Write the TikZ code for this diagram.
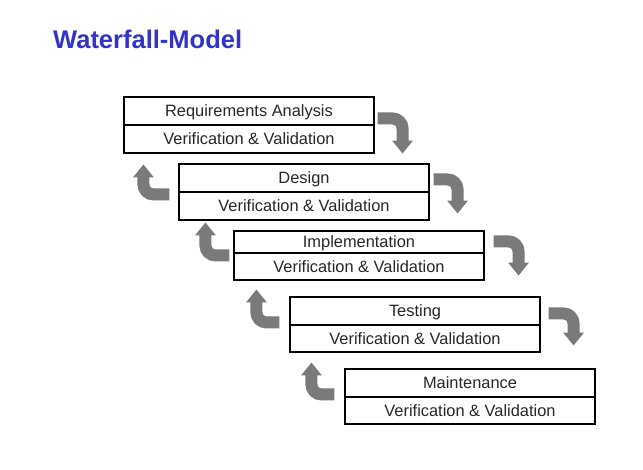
\documentclass[tikz,border=0pt]{standalone}
\usepackage{fontspec}
\setmainfont{Liberation Sans}
\usetikzlibrary{arrows.meta}
\definecolor{titleblue}{RGB}{50,50,205}
\definecolor{arrowgray}{RGB}{122,122,122}
\begin{document}
\begin{tikzpicture}[x=1pt,y=-1pt,
  part/.style={draw=black, line width=1.1pt, minimum width=250pt, inner sep=0pt,
    text height=11.7pt, text depth=0pt, font=\fontsize{16.4}{18}\selectfont, text=black!85},
  flow/.style={draw=arrowgray, line width=12pt, rounded corners=10pt,
    -{Triangle[width=20pt,length=13pt]}},
]
\useasboundingbox (0,0) rectangle (643,469);

\node[anchor=base west, inner sep=0pt, font=\fontsize{25.5}{30}\selectfont\bfseries,
  text=titleblue] (title) at (53,48) {Waterfall-Model};

% Box 1
\node[part, minimum height=28pt] (t1) at (249,111) {Requirements Analysis};
\node[part, minimum height=28pt] (v1) at (249,139) {Verification \& Validation};
% Box 2
\node[part, minimum height=28pt] (t2) at (304,178) {Design};
\node[part, minimum height=28pt] (v2) at (304,206) {Verification \& Validation};
% Box 3
\node[part, minimum height=22pt] (t3) at (359,242) {Implementation};
\node[part, minimum height=27pt] (v3) at (359,266.5) {Verification \& Validation};
% Box 4
\node[part, minimum height=28pt] (t4) at (415,311) {Testing};
\node[part, minimum height=27pt] (v4) at (415,338.5) {Verification \& Validation};
% Box 5
\node[part, minimum height=28pt] (t5) at (470,383) {Maintenance};
\node[part, minimum height=27pt] (v5) at (470,410.5) {Verification \& Validation};

% forward arrows
\draw[flow] ([shift={(3,22)}]t1.north east) -| ([shift={(28,0)}]v1.south east);
\draw[flow] ([shift={(4,16)}]t2.north east) -| ([shift={(28,-7)}]v2.south east);
\draw[flow] ([shift={(9,11)}]t3.north east) -| ([shift={(34,-5)}]v3.south east);
\draw[flow] ([shift={(8,17)}]t4.north east) -| ([shift={(33,-7)}]v4.south east);

% backward arrows
\draw[flow] ([shift={(-9,31)}]t2.north west) -| ([shift={(-35,1)}]t2.north west);
\draw[flow] ([shift={(-4,25)}]t3.north west) -| ([shift={(-28,-8)}]t3.north west);
\draw[flow] ([shift={(-10,26)}]t4.north west) -| ([shift={(-33,-7)}]t4.north west);
\draw[flow] ([shift={(-10,26)}]t5.north west) -| ([shift={(-33,-6)}]t5.north west);
\end{tikzpicture}
\end{document}
